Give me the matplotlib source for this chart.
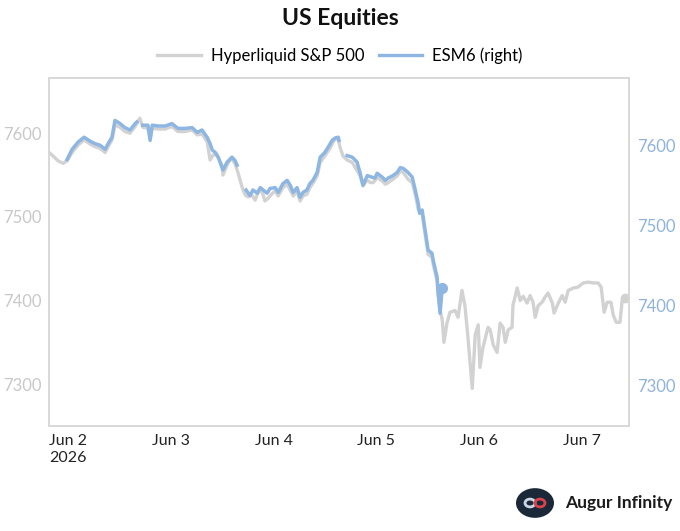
import numpy as np
import matplotlib
matplotlib.use("Agg")
import matplotlib.pyplot as plt
from matplotlib.lines import Line2D
from matplotlib.patches import Circle
import datetime as dt

plt.rcParams['font.family'] = ['Lato', 'DejaVu Sans']

# ---- data (hours after 2026-06-02 00:00, value) ----
hl_hours = [0, 0.9, 2.1, 3.3, 4.2, 5.4, 6.8, 8.2, 9.6, 10.7, 11.9, 13.1, 13.8, 14.7, 15.4, 16.6,
            17.7, 18.9, 20.1, 21.2, 21.9, 23.1, 23.6, 24.1, 25.5, 27.1, 28.7, 30.1, 31.8, 33.4,
            34.6, 35.7, 36.9, 37.6, 38.3, 39.2, 40.4, 40.6, 41.6, 42.5, 43.4, 44.1, 45.1, 45.8,
            46.5, 47.4, 48.1, 48.8, 49.7, 50.4, 51.1, 52.1, 52.8, 53.5, 54.6, 55.6, 56.3, 57.0,
            57.9, 58.6, 59.3, 60.2, 60.9, 61.6, 62.6, 63.3, 64.4, 65.6, 66.3, 66.8, 67.5, 67.9,
            68.6, 69.6, 70.8, 71.5, 72.6, 73.3, 74.3, 75.0, 75.7, 76.6, 77.8, 78.5, 79.2, 80.3,
            81.3, 82.0, 82.7, 83.8, 84.8, 85.5, 86.2, 87.1, 87.8, 88.5, 89.4, 89.7, 90.6, 90.8,
            91.3, 91.8, 92.2, 92.9, 93.6, 94.8, 95.5, 96.4, 97.1, 97.8, 98.8, 99.5, 100.2, 100.6,
            101.3, 102.5, 103.0, 103.7, 104.6, 105.3, 106.0, 106.5, 107.2, 108.1, 108.3, 109.3,
            110.0, 110.7, 111.6, 112.3, 113.0, 113.5, 114.2, 115.1, 115.8, 116.5, 117.5, 117.9,
            118.9, 119.8, 120.5, 121.2, 122.4, 123.5, 124.7, 125.9, 127.0, 128.2, 128.9, 129.6,
            130.3, 131.2, 131.7, 132.4, 133.3, 133.8, 134.5]
hl_values = [7577, 7573, 7567, 7564, 7567, 7577, 7586, 7592, 7587, 7584, 7582, 7577, 7584, 7592,
             7610, 7607, 7602, 7600, 7608, 7618, 7607, 7606, 7594, 7606, 7605, 7605, 7608, 7602,
             7602, 7604, 7598, 7599, 7590, 7568, 7574, 7574, 7561, 7550, 7562, 7570, 7564, 7553,
             7535, 7526, 7524, 7526, 7520, 7529, 7531, 7519, 7522, 7528, 7531, 7525, 7535, 7539,
             7532, 7525, 7531, 7519, 7525, 7527, 7535, 7540, 7549, 7565, 7573, 7582, 7589, 7593,
             7593, 7584, 7573, 7568, 7565, 7559, 7549, 7537, 7544, 7541, 7541, 7547, 7543, 7539,
             7541, 7545, 7549, 7555, 7553, 7545, 7541, 7527, 7509, 7503, 7479, 7455, 7452, 7443,
             7423, 7408, 7388, 7377, 7350, 7373, 7386, 7388, 7380, 7412, 7394, 7356, 7295, 7359,
             7371, 7320, 7344, 7368, 7365, 7347, 7338, 7373, 7368, 7350, 7365, 7368, 7394, 7415,
             7400, 7405, 7397, 7406, 7398, 7380, 7394, 7398, 7404, 7409, 7397, 7385, 7397, 7406,
             7398, 7412, 7415, 7416, 7421, 7422, 7421, 7421, 7416, 7386, 7398, 7398, 7383, 7374,
             7374, 7400, 7403]

es_hours = [4.2, 5.4, 6.8, 8.2, 9.6, 10.7, 11.9, 13.1, 13.8, 14.7, 15.4, 16.6, 17.7, 18.9, 20.1,
            20.5, 21.0, 21.9, 23.1, 23.6, 24.1, 25.5, 27.1, 28.7, 30.1, 31.8, 33.4, 34.6, 35.7,
            36.9, 37.6, 38.1, 38.8, 39.5, 40.6, 41.6, 42.7, 43.4, 43.9, 45.0, 46.0, 46.9, 47.6,
            48.6, 49.3, 50.0, 50.9, 51.6, 52.8, 53.5, 54.6, 55.6, 56.3, 57.0, 57.9, 58.6, 59.3,
            60.2, 60.9, 61.6, 62.6, 63.3, 64.4, 65.1, 66.1, 66.8, 67.5, 67.7, 68.6, 69.6, 70.8,
            71.9, 72.6, 73.3, 74.3, 75.4, 76.1, 76.6, 77.8, 78.5, 79.2, 80.3, 81.3, 82.0, 82.7,
            83.8, 84.8, 85.5, 86.2, 86.5, 87.1, 87.8, 88.5, 89.4, 89.7, 90.6, 90.8, 91.3, 91.8]
es_values = [7582, 7595, 7604, 7610, 7605, 7602, 7600, 7595, 7602, 7610, 7631, 7627, 7622, 7619,
             7627, 7629, np.nan, 7625, 7625, 7606, 7625, 7624, 7624, 7627, 7621, 7621, 7622, 7616,
             7619, 7610, 7602, 7594, 7591, 7585, 7569, 7579, 7585, 7581, 7575, np.nan, 7544, 7537,
             7544, 7540, 7547, 7544, 7540, 7546, 7547, 7541, 7552, 7556, 7550, 7541, 7547, 7535,
             7541, 7544, 7552, 7556, 7566, 7585, 7591, 7597, 7606, 7609, 7610, 7606, np.nan, 7587,
             7585, 7579, 7566, 7550, 7562, 7560, 7559, 7565, 7560, 7556, 7559, 7562, 7566, 7572,
             7571, 7566, 7560, 7544, 7527, 7515, 7519, 7494, 7469, 7465, 7456, 7435, 7419, 7390,
             7422]

xtick_labels = ["Jun 2\n2026", "Jun 3", "Jun 4", "Jun 5", "Jun 6", "Jun 7"]
left_ticks = [7300, 7400, 7500, 7600]
right_ticks = [7300, 7400, 7500, 7600]

GRAY = "#d2d2d2"
BLUE = "#8db6e2"

base = dt.datetime(2026, 6, 2)
hl_t = [base + dt.timedelta(hours=h) for h in hl_hours]
es_t = [base + dt.timedelta(hours=h) for h in es_hours]

fig = plt.figure(figsize=(6.8, 5.31), dpi=100)
ax = fig.add_axes([0.0721, 0.1977, 0.8529, 0.6554])
ax2 = ax.twinx()

ax.plot(hl_t, hl_values, color=GRAY, lw=2.4, solid_joinstyle='round', zorder=2)
ax.plot([hl_t[-1]], [hl_values[-1]], 'o', color=GRAY, ms=6, zorder=2)
ax2.plot(es_t, es_values, color=BLUE, lw=2.5, solid_joinstyle='round', zorder=3)
ax2.plot([es_t[-1]], [es_values[-1]], 'o', color=BLUE, ms=7, zorder=3)
ax.set_zorder(1); ax2.set_zorder(2)
ax.patch.set_visible(False)

ax.set_xlim(base, base + dt.timedelta(hours=135.4))
ax.set_ylim(7250, 7666)
ax2.set_ylim(7249, 7684)

ax.set_yticks(left_ticks)
ax2.set_yticks(right_ticks)
ax.set_xticks([base + dt.timedelta(days=i) for i in range(len(xtick_labels))])
ax.set_xticklabels(xtick_labels, ha='left', va='top')

ax.tick_params(axis='y', length=0, pad=5, labelsize=12, labelcolor="#c8c8c8")
ax2.tick_params(axis='y', length=0, pad=6, labelsize=12, labelcolor="#8fb3dd")
ax.tick_params(axis='x', length=0, pad=6, labelsize=11.5, labelcolor="#222222")
for a in (ax, ax2):
    for s in a.spines.values():
        s.set_color("#d8d8d8")
        s.set_linewidth(1.2)
ax.grid(False); ax2.grid(False)

fig.text(0.5, 0.966, "US Equities", ha='center', va='center', fontsize=16.5, fontweight='bold', color="#111111")
handles = [Line2D([], [], color=GRAY, lw=2.4), Line2D([], [], color=BLUE, lw=2.4)]
fig.legend(handles, ["Hyperliquid S&P 500", "ESM6 (right)"], loc='center', bbox_to_anchor=(0.5, 0.896),
           ncol=2, frameon=False, fontsize=12, handlelength=2.6, columnspacing=0.9, handletextpad=0.6)

# logo
lx, ly = 535/680, 1 - 503/531
circ = Circle((lx, ly), 19/680, transform=fig.transFigure, facecolor="#1b2838", edgecolor='none')
fig.patches.append(circ)
fig.patches.append(Circle((lx - 5/680, ly), 5/680, transform=fig.transFigure, facecolor='none',
                          edgecolor="#c9d6e6", lw=2))
fig.patches.append(Circle((lx + 5/680, ly), 5/680, transform=fig.transFigure, facecolor='none',
                          edgecolor="#d9434a", lw=2))
fig.text(565/680, ly, "Augur Infinity", ha='left', va='center', fontsize=12.5, fontweight='bold', color="#1b1b1b")

fig.savefig("out.png", dpi=100)
